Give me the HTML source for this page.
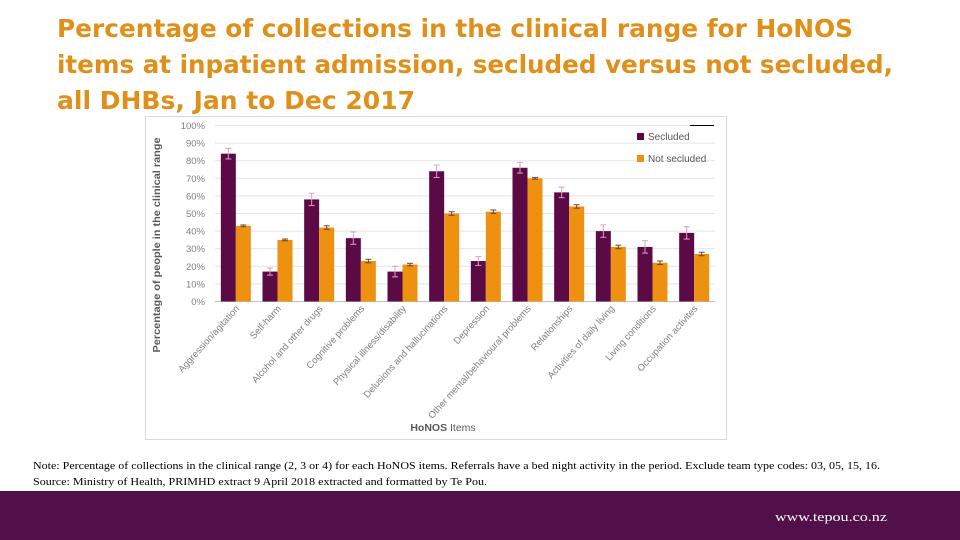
<!DOCTYPE html>
<html><head><meta charset="utf-8"><style>
html,body{margin:0;padding:0;width:960px;height:540px;overflow:hidden;background:#fff}
svg{display:block}
</style></head><body>
<svg id="s" width="960" height="540" viewBox="0 0 960 540" xmlns="http://www.w3.org/2000/svg">
<g fill="#E0901A" font-family="'DejaVu Sans','Liberation Sans',sans-serif" font-weight="bold" font-size="25">
<text x="57" y="37" textLength="796" lengthAdjust="spacingAndGlyphs">Percentage of collections in the clinical range for HoNOS</text>
<text x="57" y="73" textLength="836" lengthAdjust="spacingAndGlyphs">items at inpatient admission, secluded versus not secluded,</text>
<text x="57" y="109" textLength="358" lengthAdjust="spacingAndGlyphs">all DHBs, Jan to Dec 2017</text>
</g>
<rect x="145.5" y="116.5" width="581" height="323" fill="#fff" stroke="#d9d9d9"/>
<g id="grid"></g>
<g id="bars"></g>
<g id="labels"></g>
<text transform="translate(160,245) rotate(-90)" text-anchor="middle" font-family="'Liberation Sans',sans-serif" font-weight="bold" font-size="10.5" fill="#595959" textLength="215" lengthAdjust="spacingAndGlyphs">Percentage of people in the clinical range</text>
<text x="443" y="431" text-anchor="middle" font-family="'Liberation Sans',sans-serif" font-size="10.5" fill="#595959"><tspan font-weight="bold">HoNOS</tspan> Items</text>
<g font-family="'Liberation Sans',sans-serif" font-size="10" fill="#595959">
<line x1="690" y1="125.5" x2="714" y2="125.5" stroke="#000" stroke-width="1"/>
<rect x="637" y="133" width="7" height="7" fill="#5C0A45"/>
<text x="648" y="140">Secluded</text>
<rect x="637" y="155" width="7" height="7" fill="#EE9111"/>
<text x="648" y="162">Not secluded</text>
</g>
<g font-family="'Liberation Serif',serif" font-size="11" fill="#000">
<text x="33" y="469" textLength="847" lengthAdjust="spacingAndGlyphs">Note: Percentage of collections in the clinical range (2, 3 or 4) for each HoNOS items. Referrals have a bed night activity in the period. Exclude team type codes: 03, 05, 15, 16.</text>
<text x="33" y="485" textLength="454" lengthAdjust="spacingAndGlyphs">Source: Ministry of Health, PRIMHD extract 9 April 2018 extracted and formatted by Te Pou.</text>
</g>
<rect x="0" y="491" width="960" height="49" fill="#52104A"/>
<text x="775" y="521" font-family="'Liberation Serif',serif" font-size="13" fill="#fff" textLength="112" lengthAdjust="spacingAndGlyphs">www.tepou.co.nz</text>
</svg>
<script>
const categories=["Aggression/agitation","Self-harm","Alcohol and other drugs","Cognitive problems","Physical illness/disability","Delusions and hallucinations","Depression","Other mental/behavioural problems","Relationships","Activities of daily living","Living conditions","Occupation activites"];
const secluded=[84,17,58,36,17,74,23,76,62,40,31,39];
const notSecluded=[43,35,42,23,21,50,51,70,54,31,22,27];
const secludedErr=[3,2,3.5,3.5,3,3.5,2.5,3,3,3.5,3.5,3.5];
const notSecludedErr=[0.5,0.5,1,1,0.7,1,1,0.5,1,1,1,1];
const yTicks=[0,10,20,30,40,50,60,70,80,90,100];
const NS="http://www.w3.org/2000/svg";
const x0=215,x1=715,y0=301.5,y1=125.5;
const pitch=(x1-x0)/categories.length;
function y(v){return y0-(v/100)*(y0-y1);}
function gx(i){return x0+i*pitch;}
function mk(tag,attrs,parent){const e=document.createElementNS(NS,tag);for(const k in attrs)e.setAttribute(k,attrs[k]);parent.appendChild(e);return e;}
const grid=document.getElementById('grid'),bars=document.getElementById('bars'),labels=document.getElementById('labels');
yTicks.forEach(t=>{
  const l=mk('line',{x1:x0,x2:x1,y1:y(t),y2:y(t),stroke:t===0?'#bfbfbf':'#e3e3e3','stroke-width':1},grid);
  
  
  const tx=mk('text',{x:205,y:y(t)+3.5,'text-anchor':'end','font-family':"'Liberation Sans',sans-serif",'font-size':9.5,fill:'#7f7f7f'},grid);
  tx.textContent=t+'%';
  
  
});
const bw=15;
categories.forEach((c,i)=>{
  const cx=gx(i)+pitch/2;
  const xs=cx-bw, xn=cx;
  const b1=mk('rect',{x:xs,y:y(secluded[i]),width:bw,height:y0-y(secluded[i]),fill:'#5C0A45'},bars);
  
  
  const b2=mk('rect',{x:xn,y:y(notSecluded[i]),width:bw,height:y0-y(notSecluded[i]),fill:'#EE9111'},bars);
  
  
  [[xs+bw/2,secluded[i],secludedErr[i],'#d9a0c0'],[xn+bw/2,notSecluded[i],notSecludedErr[i],'#6b4a2a']].forEach(([ex,v,e,col])=>{
    const g=mk('g',{stroke:col,'stroke-width':1},bars);
    
    
    mk('line',{x1:ex,x2:ex,y1:y(v+e),y2:y(v-e)},g);
    mk('line',{x1:ex-3,x2:ex+3,y1:y(v+e),y2:y(v+e)},g);
    mk('line',{x1:ex-3,x2:ex+3,y1:y(v-e),y2:y(v-e)},g);
  });
  const t=mk('text',{transform:`translate(${cx+4},${309}) rotate(-48)`,'text-anchor':'end','font-family':"'Liberation Sans',sans-serif",'font-size':9.5,fill:'#7f7f7f'},labels);
  t.textContent=c;
  
  
});
</script>
</body></html>
